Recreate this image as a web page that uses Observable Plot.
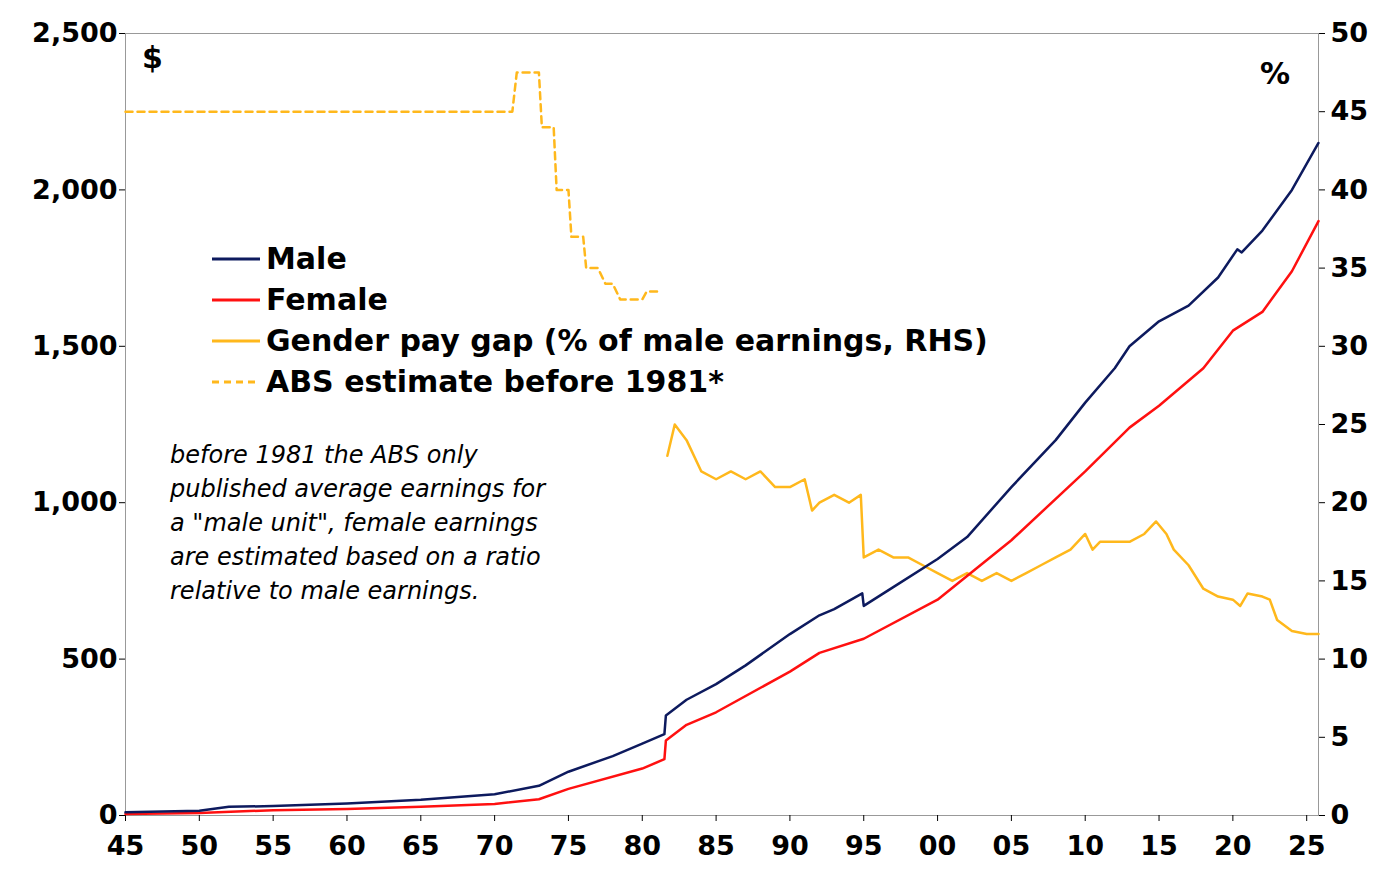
<!DOCTYPE html>
<html><head><meta charset="utf-8">
<script src="https://cdn.jsdelivr.net/npm/d3@7"></script>
<script src="https://cdn.jsdelivr.net/npm/@observablehq/plot@0.6"></script>
<style>
body{margin:0;background:#fff;font-family:"DejaVu Sans",Verdana,sans-serif}
#wrap{position:relative;width:1394px;height:877px}
#legend{position:absolute;left:212px;top:238px;font-weight:bold;font-size:30px;line-height:41px;color:#000}
#legend div{display:flex;align-items:center}
#legend svg{margin-right:6px}
#note{position:absolute;left:170px;top:438px;font-style:italic;font-size:24px;line-height:34px}
.unit{position:absolute;font-weight:bold;font-size:30px}
</style></head><body>
<div id="wrap"></div>
<script>
const maleYear=[1945,1950,1952,1955,1960,1965,1970,1973,1975,1978,1980,1981.5,1981.6,1983,1985,1987,1990,1992,1993,1994.9,1995,1997,2000,2002,2005,2008,2010,2012,2013,2015,2017,2019,2020.3,2020.6,2022,2024,2025.8];
const maleVal=[10,15,28,30,38,50,68,95,140,190,230,260,320,370,420,480,580,640,660,710,670,730,820,890,1050,1200,1320,1430,1500,1580,1630,1720,1810,1800,1870,2000,2150];
const femaleYear=[1945,1950,1955,1960,1965,1970,1973,1975,1980,1981.5,1981.6,1983,1985,1990,1992,1995,2000,2005,2010,2013,2015,2018,2020,2022,2024,2025.8];
const femaleVal=[5,8,17,21,28,37,52,85,150,180,240,290,330,460,520,565,690,880,1100,1240,1310,1430,1550,1610,1740,1900];
const gapYear=[1981.7,1982.2,1983,1984,1985,1986,1987,1988,1989,1990,1991,1991.5,1992,1993,1994,1994.8,1995,1996,1997,1998,1999,2000,2001,2002,2003,2004,2005,2006,2007,2008,2009,2010,2010.5,2011,2012,2013,2014,2014.8,2015.5,2016,2017,2018,2019,2020,2020.5,2021,2022,2022.5,2023,2024,2025,2025.8];
const gapVal=[23,25,24,22,21.5,22,21.5,22,21,21,21.5,19.5,20,20.5,20,20.5,16.5,17,16.5,16.5,16,15.5,15,15.5,15,15.5,15,15.5,16,16.5,17,18,17,17.5,17.5,17.5,18,18.8,18,17,16,14.5,14,13.8,13.4,14.2,14,13.8,12.5,11.8,11.6,11.6];
const absYear=[1945,1971.2,1971.5,1973,1973.2,1974,1974.2,1975,1975.2,1976,1976.2,1977,1977.5,1978,1978.5,1980,1980.3,1981];
const absVal=[45,45,47.5,47.5,44,44,40,40,37,37,35,35,34,34,33,33,33.5,33.5];
const xTicks=d3.range(1945,2026,5);
const leftTicks=d3.range(0,2501,500);
const rightTicks=d3.range(0,51,5);
const K=50;
const male=maleYear.map((x,i)=>({x,y:maleVal[i]}));
const female=femaleYear.map((x,i)=>({x,y:femaleVal[i]}));
const gap=gapYear.map((x,i)=>({x,y:gapVal[i]*K}));
const abs=absYear.map((x,i)=>({x,y:absVal[i]*K}));
const navy="#0d1a5e",red="#ff1010",gold="#ffb81c";
const chart=Plot.plot({
  width:1394,height:877,marginLeft:125,marginRight:76,marginTop:33,marginBottom:62,
  style:{fontFamily:"DejaVu Sans, Verdana",fontWeight:"bold",fontSize:"27px",color:"#000"},
  x:{domain:[1945,2025.8]},
  y:{domain:[0,2500]},
  marks:[
    Plot.frame({stroke:"#999"}),
    Plot.axisX({ticks:xTicks,tickFormat:d=>String(d%100).padStart(2,"0"),tickSize:6,tickPadding:14,label:null}),
    Plot.axisY({ticks:leftTicks,tickFormat:d3.format(","),tickSize:6,tickPadding:2,label:null}),
    Plot.axisY({anchor:"right",ticks:rightTicks.map(v=>v*K),tickFormat:d=>d/K,tickSize:6,tickPadding:6,label:null}),
    Plot.line(abs,{x:"x",y:"y",stroke:gold,strokeWidth:2.5,strokeDasharray:"7,5"}),
    Plot.line(gap,{x:"x",y:"y",stroke:gold,strokeWidth:2.5}),
    Plot.line(female,{x:"x",y:"y",stroke:red,strokeWidth:2.5}),
    Plot.line(male,{x:"x",y:"y",stroke:navy,strokeWidth:2.5})
  ]
});
const wrap=document.getElementById("wrap");
wrap.appendChild(chart);
const items=[["Male",navy,""],["Female",red,""],["Gender pay gap (% of male earnings, RHS)",gold,""],["ABS estimate before 1981*",gold,"7,5"]];
const lg=document.createElement("div");lg.id="legend";
lg.innerHTML=items.map(([t,c,d])=>`<div><svg width="48" height="10"><line x1="0" x2="48" y1="5" y2="5" stroke="${c}" stroke-width="3" stroke-dasharray="${d}"/></svg>${t}</div>`).join("");
wrap.appendChild(lg);
const note=document.createElement("div");note.id="note";
note.innerHTML='before 1981 the ABS only<br>published average earnings for<br>a "male unit", female earnings<br>are estimated based on a ratio<br>relative to male earnings.';
wrap.appendChild(note);
const u1=document.createElement("div");u1.className="unit";u1.style.left="142px";u1.style.top="40px";u1.textContent="$";wrap.appendChild(u1);
const u2=document.createElement("div");u2.className="unit";u2.style.left="1260px";u2.style.top="56px";u2.textContent="%";wrap.appendChild(u2);
</script></body></html>
